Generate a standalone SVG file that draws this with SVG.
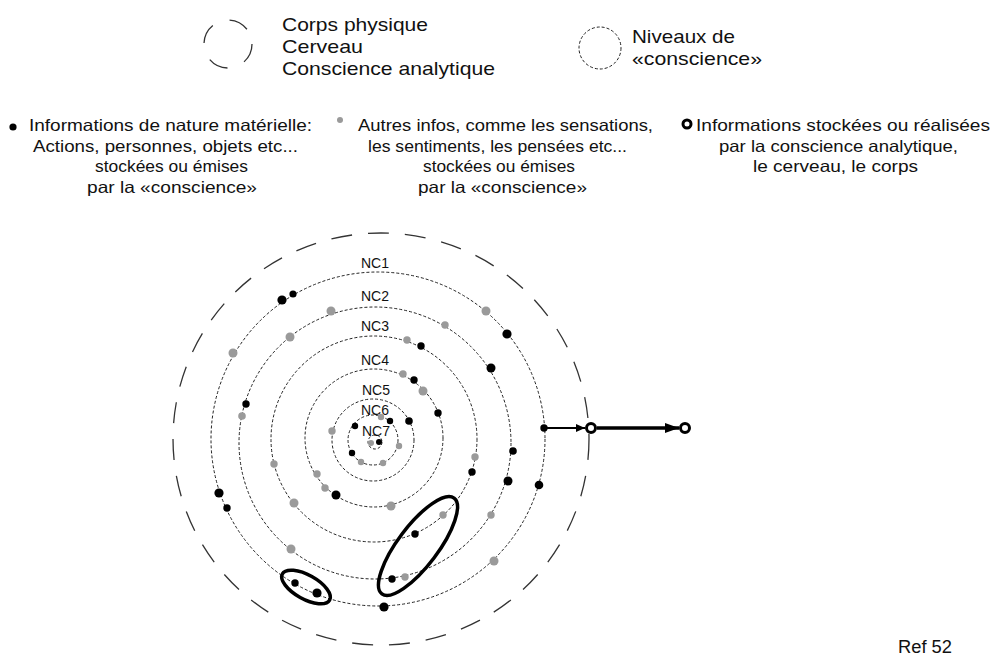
<svg xmlns="http://www.w3.org/2000/svg" width="996" height="668" viewBox="0 0 996 668">
<defs>
<style>
text{font-family:"Liberation Sans",Arial,sans-serif;fill:#111}
.lg{font-size:19px}
.md{font-size:16.5px}
.nc{font-size:14px;text-anchor:middle}
.dot{fill:none;stroke:#222;stroke-width:1;stroke-dasharray:3 2}
.dash{fill:none;stroke:#333;stroke-width:1.3;stroke-dasharray:21 16}
.b{fill:#000}
.g{fill:#9a9a9a}
.ring{fill:#fff;stroke:#000;stroke-width:3}
.ell{fill:none;stroke:#000;stroke-width:3.5}
</style>
<marker id="ah1" markerUnits="userSpaceOnUse" markerWidth="10" markerHeight="10" refX="9" refY="4" orient="auto"><path d="M0,0 L9,4 L0,8 Z" fill="#000"/></marker>
<marker id="ah2" markerUnits="userSpaceOnUse" markerWidth="16" markerHeight="12" refX="14" refY="5" orient="auto"><path d="M0,0 L14,5 L0,10 Z" fill="#000"/></marker>
</defs>
<rect width="996" height="668" fill="#fff"/>

<g id="legend-body">
<circle cx="228" cy="44" r="24" fill="none" stroke="#333" stroke-width="1.3" stroke-dasharray="20 18"/>
<text class="lg" x="282" y="31" textLength="146" lengthAdjust="spacingAndGlyphs">Corps physique</text>
<text class="lg" x="282" y="53" textLength="81" lengthAdjust="spacingAndGlyphs">Cerveau</text>
<text class="lg" x="282" y="75" textLength="213" lengthAdjust="spacingAndGlyphs">Conscience analytique</text>
</g>
<g id="legend-levels">
<circle cx="600" cy="48" r="21" class="dot"/>
<text class="lg" x="632" y="43" textLength="103" lengthAdjust="spacingAndGlyphs">Niveaux de</text>
<text class="lg" x="632" y="65" textLength="130" lengthAdjust="spacingAndGlyphs">«conscience»</text>
</g>

<g id="legend-material">
<circle cx="13" cy="127" r="3.6" class="b"/>
<text class="md" x="29" y="131" textLength="283" lengthAdjust="spacingAndGlyphs">Informations de nature matérielle:</text>
<text class="md" x="33" y="152" textLength="265" lengthAdjust="spacingAndGlyphs">Actions, personnes, objets etc...</text>
<text class="md" x="95" y="172" textLength="153" lengthAdjust="spacingAndGlyphs">stockées ou émises</text>
<text class="md" x="87" y="193" textLength="170" lengthAdjust="spacingAndGlyphs">par  la «conscience»</text>
</g>
<g id="legend-other">
<circle cx="340" cy="120" r="3" class="g"/>
<text class="md" x="358" y="131" textLength="295" lengthAdjust="spacingAndGlyphs">Autres infos, comme les sensations,</text>
<text class="md" x="368" y="152" textLength="259" lengthAdjust="spacingAndGlyphs">les sentiments, les pensées etc...</text>
<text class="md" x="423" y="172" textLength="152" lengthAdjust="spacingAndGlyphs">stockées ou émises</text>
<text class="md" x="418" y="193" textLength="169" lengthAdjust="spacingAndGlyphs">par la «conscience»</text>
</g>
<g id="legend-stored">
<circle cx="687" cy="124" r="4" class="ring" stroke-width="2.8"/>
<text class="md" x="696" y="131" textLength="294" lengthAdjust="spacingAndGlyphs">Informations stockées ou réalisées</text>
<text class="md" x="719" y="152" textLength="239" lengthAdjust="spacingAndGlyphs">par la conscience analytique,</text>
<text class="md" x="753" y="172" textLength="165" lengthAdjust="spacingAndGlyphs">le cerveau, le corps</text>
</g>

<g id="outer">
<ellipse cx="381" cy="439" rx="208" ry="206" class="dash"/>
</g>

<g id="levels">
<circle cx="378" cy="439" r="167" class="dot"/>
<circle cx="375" cy="443" r="136" class="dot"/>
<circle cx="374" cy="439" r="103" class="dot"/>
<circle cx="374" cy="438" r="69" class="dot"/>
<circle cx="373" cy="440" r="41" class="dot"/>
<circle cx="373" cy="440" r="25" class="dot"/>
<circle cx="375" cy="442" r="7" class="dot"/>
<text class="nc" x="375" y="268">NC1</text>
<text class="nc" x="375" y="301">NC2</text>
<text class="nc" x="375" y="331">NC3</text>
<text class="nc" x="375" y="365">NC4</text>
<text class="nc" x="376" y="395">NC5</text>
<text class="nc" x="375" y="415">NC6</text>
<text class="nc" x="376" y="436">NC7</text>
</g>

<g id="dots">
<!-- NC1 -->
<circle cx="282" cy="300" r="4.6" class="b"/>
<circle cx="293" cy="294" r="3.6" class="b"/>
<circle cx="486" cy="311" r="4.5" class="g"/>
<circle cx="507" cy="334" r="4.6" class="b"/>
<circle cx="233" cy="353" r="4.5" class="g"/>
<circle cx="544" cy="428" r="3.7" class="b"/>
<circle cx="219" cy="493" r="4.6" class="b"/>
<circle cx="227" cy="508" r="3.7" class="b"/>
<circle cx="539" cy="485" r="4.3" class="b"/>
<circle cx="494" cy="561" r="4.5" class="g"/>
<circle cx="295" cy="583" r="3.7" class="b"/>
<circle cx="317" cy="593" r="4.6" class="b"/>
<circle cx="384" cy="607" r="4.6" class="b"/>
<!-- NC2 -->
<circle cx="331" cy="311" r="4.5" class="g"/>
<circle cx="445" cy="325" r="3.7" class="g"/>
<circle cx="290" cy="337" r="4.5" class="g"/>
<circle cx="491" cy="368" r="4.5" class="b"/>
<circle cx="246" cy="404" r="3.7" class="b"/>
<circle cx="242" cy="416" r="3.8" class="g"/>
<circle cx="513" cy="451" r="3.8" class="b"/>
<circle cx="508" cy="481" r="4.5" class="b"/>
<circle cx="491" cy="515" r="3.7" class="g"/>
<circle cx="291" cy="549" r="4.5" class="g"/>
<circle cx="392" cy="579" r="3.7" class="b"/>
<circle cx="405" cy="577" r="3.7" class="g"/>
<!-- NC3 -->
<circle cx="407" cy="340" r="3.7" class="g"/>
<circle cx="421" cy="346" r="3.7" class="b"/>
<circle cx="274" cy="464" r="3.7" class="g"/>
<circle cx="294" cy="503" r="4.5" class="g"/>
<circle cx="475" cy="457" r="3.7" class="g"/>
<circle cx="472" cy="472" r="3.7" class="b"/>
<circle cx="443" cy="515" r="3.7" class="g"/>
<circle cx="415" cy="534" r="3.7" class="b"/>
<!-- NC4 -->
<circle cx="403" cy="374" r="3.7" class="g"/>
<circle cx="414" cy="380" r="3.7" class="b"/>
<circle cx="423" cy="391" r="4.5" class="g"/>
<circle cx="438" cy="413" r="3.7" class="b"/>
<circle cx="317" cy="474" r="3.7" class="g"/>
<circle cx="325" cy="488" r="3.7" class="g"/>
<circle cx="336" cy="495" r="4.5" class="b"/>
<circle cx="391" cy="506" r="4.5" class="g"/>
<!-- NC5 -->
<circle cx="332" cy="431" r="3.7" class="g"/>
<circle cx="409" cy="421" r="3.8" class="b"/>
<!-- NC6 -->
<circle cx="355" cy="426" r="3.2" class="b"/>
<circle cx="390" cy="421" r="3.2" class="b"/>
<circle cx="381" cy="417" r="3.2" class="g"/>
<circle cx="399" cy="446" r="3.2" class="g"/>
<circle cx="352" cy="453" r="3.2" class="b"/>
<circle cx="361" cy="462" r="3.2" class="g"/>
<circle cx="383" cy="463" r="3.2" class="g"/>
<!-- NC7 -->
<circle cx="371" cy="443" r="3" class="g"/>
<circle cx="379" cy="442" r="3" class="b"/>
</g>

<g id="groups">
<ellipse cx="418" cy="546" rx="60" ry="20" transform="rotate(-53 418 546)" class="ell"/>
<ellipse cx="306" cy="587" rx="27" ry="12" transform="rotate(29 306 587)" class="ell"/>
</g>

<g id="connectors">
<line x1="547" y1="428" x2="585" y2="428" stroke="#000" stroke-width="2" marker-end="url(#ah1)"/>
<line x1="597" y1="428" x2="679" y2="428" stroke="#000" stroke-width="3.5" marker-end="url(#ah2)"/>
</g>
<g id="out1"><circle cx="591" cy="428" r="4.5" class="ring"/></g>
<g id="out2"><circle cx="685" cy="428" r="4.5" class="ring"/></g>

<text x="898" y="653" style="font-size:18px" textLength="54" lengthAdjust="spacingAndGlyphs">Ref 52</text>
</svg>
